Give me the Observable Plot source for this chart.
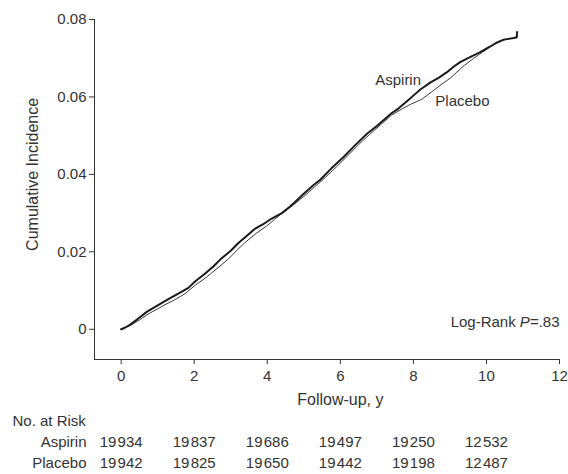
<!DOCTYPE html>
<html><head><meta charset="utf-8">
<script src="https://cdn.jsdelivr.net/npm/d3@7"></script>
<script src="https://cdn.jsdelivr.net/npm/@observablehq/plot@0.6"></script>
<style>html,body{margin:0;padding:0;background:#fff}svg{overflow:visible}</style>
</head><body><div id="chart"></div>
<script>
// Follow-up (years) and cumulative incidence
const aspirinT = [0,0.1,0.25,0.47,0.7,0.93,1.15,1.39,1.6,1.84,2.03,2.3,2.53,2.71,3.0,3.21,3.45,3.67,3.9,4.12,4.4,4.6,4.76,5.0,5.26,5.45,5.75,6.09,6.4,6.73,7.0,7.18,7.4,7.59,7.75,7.91,8.03,8.2,8.46,8.7,8.92,9.1,9.28,9.55,9.83,10.08,10.28,10.47,10.6,10.75,10.83,10.84];
const aspirinY = [0,0.0004,0.0012,0.0028,0.0045,0.0058,0.0070,0.0083,0.0094,0.0107,0.0124,0.0144,0.0163,0.0180,0.0203,0.0223,0.0242,0.0260,0.0272,0.0286,0.0300,0.0315,0.0329,0.0350,0.0372,0.0386,0.0415,0.0445,0.0475,0.0505,0.0525,0.0540,0.0558,0.0570,0.0583,0.0596,0.0606,0.0620,0.0637,0.0650,0.0664,0.0678,0.0690,0.0703,0.0716,0.0729,0.0740,0.0748,0.0750,0.0752,0.0754,0.0768];
const placeboT = [0,0.25,0.5,0.75,1.0,1.25,1.5,1.75,2.03,2.3,2.6,2.94,3.2,3.39,3.7,4.0,4.2,4.4,4.7,5.0,5.3,5.6,5.9,6.2,6.5,6.8,7.1,7.4,7.67,7.9,8.23,8.5,8.73,9.0,9.19,9.4,9.64,9.85,10.01,10.2,10.4,10.6,10.78];
const placeboY = [0,0.0010,0.0024,0.0040,0.0053,0.0066,0.0078,0.0092,0.0114,0.0132,0.0155,0.0182,0.0207,0.0224,0.0248,0.0268,0.0284,0.0299,0.0320,0.0343,0.0368,0.0393,0.0420,0.0448,0.0477,0.0503,0.0528,0.0553,0.0568,0.0580,0.0594,0.0613,0.0630,0.0648,0.0664,0.0682,0.0699,0.0713,0.0723,0.0736,0.0745,0.0750,0.0752];

const riskYears = [0,2,4,6,8,10];
const riskAspirin = [19934,19837,19686,19497,19250,12532];
const riskPlacebo = [19942,19825,19650,19442,19198,12487];
const xTicks = [0,2,4,6,8,10,12];
const yTicks = [0,0.02,0.04,0.06,0.08];
const xDomain = [-0.73, 12];
const yDomain = [-0.0078, 0.08];

const aspirin = aspirinT.map((t,i)=>({t, y: aspirinY[i]}));
const placebo = placeboT.map((t,i)=>({t, y: placeboY[i]}));
const fmtN = n => { const s = String(n); return s.slice(0, s.length-3) + "\u200A" + s.slice(-3); };
const rowA = riskYears.map((yr,i)=>({yr, n: fmtN(riskAspirin[i])}));
const rowP = riskYears.map((yr,i)=>({yr, n: fmtN(riskPlacebo[i])}));

const plot = Plot.plot({
  width: 568, height: 474,
  marginTop: 19, marginLeft: 94, marginRight: 9, marginBottom: 115,
  style: {fontFamily: "'Liberation Sans', Arial, Helvetica, sans-serif", fontSize: "15px", color: "#333", background: "#fff", overflow: "visible"},
  x: {domain: xDomain},
  y: {domain: yDomain},
  marks: [
    Plot.axisY(yTicks, {tickSize: 5, tickPadding: 3, tickFormat: d => d === 0 ? "0" : d.toFixed(2), label: null}),
    Plot.axisX(xTicks, {tickSize: 5, tickPadding: 6, label: null}),
    Plot.ruleX([xDomain[0]], {stroke: "#333"}),
    Plot.ruleY([yDomain[0]], {stroke: "#333"}),
    Plot.line(placebo, {x: "t", y: "y", stroke: "#222", strokeWidth: 0.9, strokeLinejoin: "round"}),
    Plot.line(aspirin, {x: "t", y: "y", stroke: "#1a1a1a", strokeWidth: 2, strokeLinejoin: "round"}),
    Plot.text(["Aspirin"], {x: 8.21, y: 0.0644, textAnchor: "end", fill: "#333"}),
    Plot.text(["Placebo"], {x: 8.6, y: 0.0589, textAnchor: "start", fill: "#333"}),
    Plot.text(["Log-Rank P=.83"], {x: 12, y: 0, dy: -7, textAnchor: "end", fill: "#333"}),
    Plot.text(["Cumulative Incidence"], {y: 0.04, frameAnchor: "left", dx: -62, rotate: -90, textAnchor: "middle", fontSize: 16, fill: "#333"}),
    Plot.text(["Follow-up, y"], {x: 6, frameAnchor: "bottom", dy: 45, fontSize: 16, fill: "#333"}),
    Plot.text(["No. at Risk"], {frameAnchor: "bottom-left", dx: -82, dy: 66, textAnchor: "start", fill: "#333"}),
    Plot.text(["Aspirin"], {frameAnchor: "bottom-left", dx: -8, dy: 87, textAnchor: "end", fill: "#333"}),
    Plot.text(["Placebo"], {frameAnchor: "bottom-left", dx: -8, dy: 108, textAnchor: "end", fill: "#333"}),
    Plot.text(rowA, {x: "yr", text: "n", frameAnchor: "bottom", dy: 87, fill: "#333"}),
    Plot.text(rowP, {x: "yr", text: "n", frameAnchor: "bottom", dy: 108, fill: "#333"})
  ]
});

d3.select(plot).selectAll("text").filter(function(){ return this.textContent === "Log-Rank P=.83"; })
  .each(function(){
    const t = d3.select(this);
    t.text(null);
    t.append("tspan").text("Log-Rank ");
    t.append("tspan").attr("font-style", "italic").text("P");
    t.append("tspan").text("=.83");
  });

document.getElementById("chart").appendChild(plot);
</script>
</body></html>
